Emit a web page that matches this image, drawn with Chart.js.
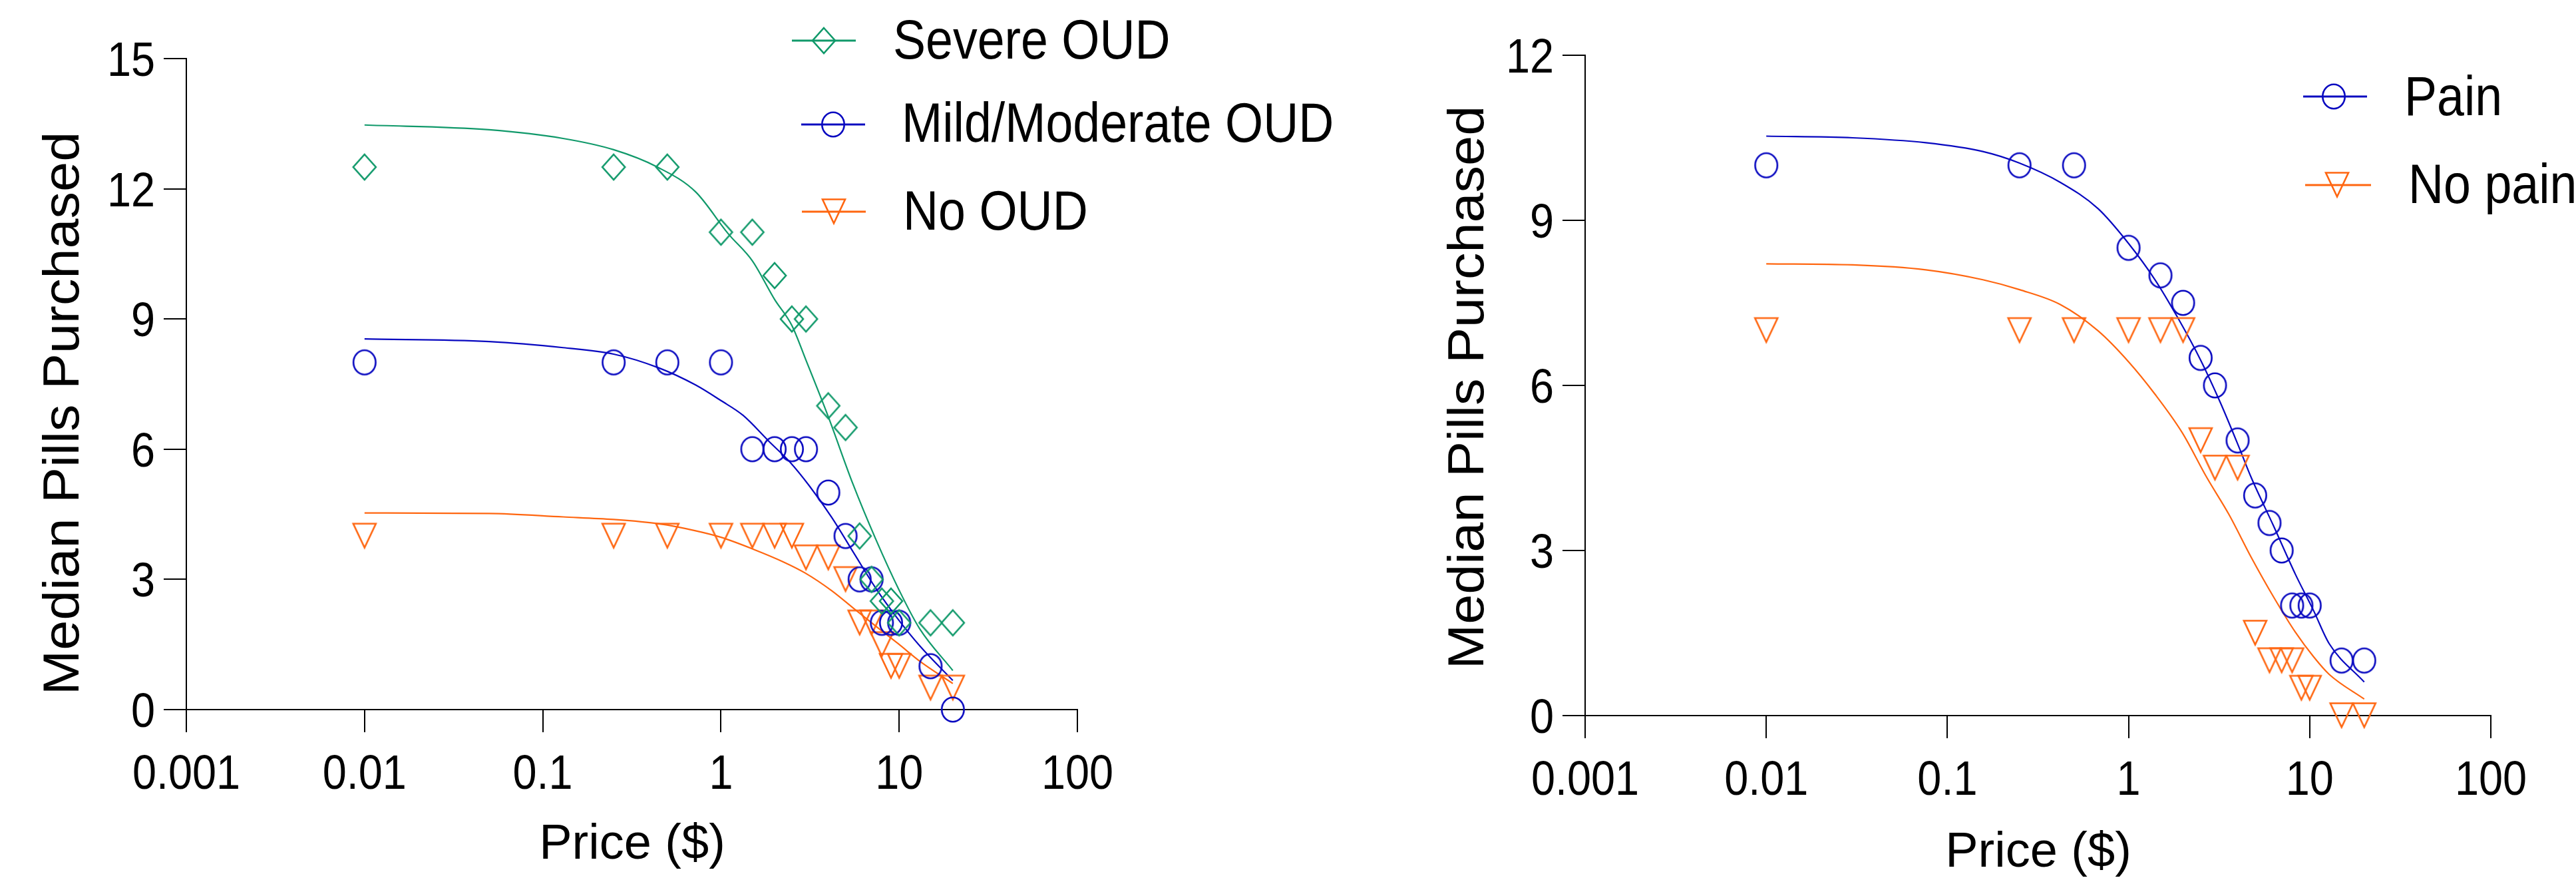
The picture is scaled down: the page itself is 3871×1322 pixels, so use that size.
<!DOCTYPE html>
<html>
<head>
<meta charset="utf-8">
<script src="https://cdn.jsdelivr.net/npm/chart.js@4.4.1/dist/chart.umd.min.js"></script>
<style>
  html, body { margin: 0; padding: 0; background: #fff; }
  #wrap { position: relative; width: 3871px; height: 1322px; overflow: hidden; }
  canvas { position: absolute; left: 0; top: 0; }
</style>
</head>
<body>
<div id="wrap">
  <canvas id="oudChart" width="3871" height="1322"></canvas>
  <canvas id="painChart" width="3871" height="1322"></canvas>
</div>
<script>
// prices of the purchase task ($)
const prices = [0.01, 0.25, 0.5, 1, 1.5, 2, 2.5, 3, 4, 5, 6, 7, 8, 9, 10, 15, 20];
const priceTicks = [0.001, 0.01, 0.1, 1, 10, 100];

// median pills purchased, left panel
const severeOud = [12.5, 12.5, 12.5, 11, 11, 10, 9, 9, 7, 6.5, 4, 3, 2.5, 2.5, 2, 2, 2];
const mildOud = [8, 8, 8, 8, 6, 6, 6, 6, 5, 4, 3, 3, 2, 2, 2, 1, 0];
const noOud = [4, 4, 4, 4, 4, 4, 4, 3.5, 3.5, 3, 2, 2, 1.5, 1, 1, 0.5, 0.5];

// median pills purchased, right panel
const pain = [10, 10, 10, 8.5, 8, 7.5, 6.5, 6, 5, 4, 3.5, 3, 2, 2, 2, 1, 1];
const noPain = [7, 7, 7, 7, 7, 7, 5, 4.5, 4.5, 1.5, 1, 1, 1, 0.5, 0.5, 0, 0];

// fitted demand curves
const severeFitX = [0.01, 0.05, 0.13, 0.25, 0.44, 0.72, 1.1, 1.5, 2, 2.5, 3, 4, 5.5, 7.4, 10, 13, 20];
const severeFitY = [13.47, 13.36, 13.16, 12.9, 12.5, 11.93, 10.96, 10.34, 9.45, 8.85, 8.05, 6.75, 5.2, 3.92, 2.75, 1.87, 0.9];
const mildFitX = [0.01, 0.05, 0.13, 0.25, 0.45, 0.72, 1, 1.33, 1.87, 2.43, 3.14, 4.18, 5.56, 7.41, 9.87, 13.1, 20];
const mildFitY = [8.54, 8.48, 8.34, 8.19, 7.87, 7.48, 7.12, 6.78, 6.17, 5.71, 5.15, 4.43, 3.61, 2.79, 2.08, 1.46, 0.67];
const noOudFitX = [0.01, 0.05, 0.13, 0.25, 0.45, 0.72, 1, 1.53, 2.22, 2.96, 4.18, 5.56, 7.41, 9.87, 13.1, 20];
const noOudFitY = [4.53, 4.52, 4.44, 4.38, 4.28, 4.12, 3.97, 3.69, 3.41, 3.15, 2.74, 2.33, 1.92, 1.52, 1.11, 0.6];
const painFitX = [0.01, 0.03, 0.076, 0.157, 0.25, 0.42, 0.68, 1, 1.4, 1.87, 2.5, 3.2, 4.08, 4.75, 6.31, 8.36, 10.5, 12.8, 20];
const painFitY = [10.53, 10.5, 10.41, 10.25, 10.04, 9.69, 9.21, 8.58, 7.92, 7.23, 6.46, 5.7, 4.87, 4.33, 3.45, 2.56, 1.91, 1.31, 0.61];
const noPainFitX = [0.01, 0.03, 0.076, 0.157, 0.25, 0.42, 0.68, 1, 1.4, 1.98, 2.7, 3.59, 4.75, 6.31, 8.36, 10.5, 12.8, 20];
const noPainFitY = [8.21, 8.19, 8.1, 7.92, 7.74, 7.47, 6.99, 6.43, 5.84, 5.14, 4.33, 3.65, 2.88, 2.16, 1.51, 1.07, 0.75, 0.3];

const GREEN = '#10996a';
const BLUE = '#0808c0';
const ORANGE = '#ff6610';
const SANS = '"Liberation Sans", Arial, sans-serif';

// open markers, a bit taller than wide like in the figure
function marker(shape, color) {
    const c = document.createElement('canvas');
    c.width = 44; c.height = 48;
    const g = c.getContext('2d');
    const cx = 22, cy = 24;
    g.strokeStyle = color;
    g.lineWidth = 2.6;
    g.beginPath();
    if (shape === 'diamond') {
        g.moveTo(cx, cy - 19); g.lineTo(cx + 17, cy); g.lineTo(cx, cy + 19); g.lineTo(cx - 17, cy);
        g.closePath();
    } else if (shape === 'circle') {
        g.ellipse(cx, cy, 16.7, 18.2, 0, 0, Math.PI * 2);
    } else {
        g.moveTo(cx - 17, cy - 18.5); g.lineTo(cx + 17, cy - 18.5); g.lineTo(cx, cy + 17.5);
        g.closePath();
    }
    g.stroke();
    return c;
}

function points(xs, ys) {
    return xs.map(function(x, i) { return { x: x, y: ys[i] }; });
}

function scatterSet(label, ys, color, shape) {
    return {
        label: label,
        data: points(prices, ys),
        showLine: false,
        borderColor: color,
        backgroundColor: color,
        pointStyle: marker(shape, color),
        pointRadius: 18,
        clip: false
    };
}

function fitSet(label, xs, ys, color) {
    return {
        label: label,
        data: points(xs, ys),
        borderColor: color,
        borderWidth: 2.2,
        pointRadius: 0,
        cubicInterpolationMode: 'monotone',
        clip: false
    };
}

// text squeezed sideways, the figure's lettering is condensed
function squeezed(ctx, text, x, y, size, sx, align) {
    ctx.save();
    ctx.translate(x, y);
    ctx.scale(sx, 1);
    ctx.font = size + 'px ' + SANS;
    ctx.textAlign = align;
    ctx.textBaseline = 'alphabetic';
    ctx.fillText(text, 0, 0);
    ctx.restore();
}

// tick labels placed from the chart's own scales
const tickText = {
    id: 'tickText',
    afterDraw(chart) {
        const ctx = chart.ctx;
        const xs = chart.scales.x, ys = chart.scales.y;
        ctx.save();
        ctx.fillStyle = '#000';
        xs.ticks.forEach(function(t) {
            squeezed(ctx, String(t.value), xs.getPixelForValue(t.value), xs.top + 119, 72, 0.9, 'center');
        });
        ys.ticks.forEach(function(t) {
            squeezed(ctx, String(t.value), ys.right - 47, ys.getPixelForValue(t.value) + 26, 72, 0.9, 'right');
        });
        ctx.restore();
    }
};

// legend: short line with the marker on it, then the label
const lineLegend = {
    id: 'lineLegend',
    afterDraw(chart, args, opts) {
        const ctx = chart.ctx;
        ctx.save();
        opts.items.forEach(function(it) {
            const ds = chart.data.datasets[it.dataset];
            ctx.strokeStyle = ds.borderColor;
            ctx.lineWidth = 3;
            ctx.beginPath();
            ctx.moveTo(it.x1, it.y);
            ctx.lineTo(it.x2, it.y);
            ctx.stroke();
            Chart.helpers.drawPoint(ctx, { pointStyle: ds.pointStyle, radius: 18, rotation: 0, borderWidth: 0 }, it.mx, it.y);
            ctx.fillStyle = '#000';
            squeezed(ctx, ds.label, it.tx, it.ty, 84, 0.875, 'left');
        });
        ctx.restore();
    }
};

const axisTitles = {
    id: 'axisTitles',
    afterDraw(chart, args, opts) {
        const ctx = chart.ctx;
        ctx.save();
        ctx.fillStyle = '#000';
        ctx.textAlign = 'center';
        ctx.textBaseline = 'alphabetic';
        ctx.font = '74px ' + SANS;
        ctx.fillText(opts.xText, opts.xCenter, opts.xBase);
        ctx.translate(opts.yBase, opts.yCenter);
        ctx.rotate(-Math.PI / 2);
        ctx.scale(1, 0.94);
        ctx.font = '81px ' + SANS;
        ctx.fillText(opts.yText, 0, 0);
        ctx.restore();
    }
};

function axes(yMax, yWidth, xHeight) {
    return {
        x: {
            type: 'logarithmic',
            min: 0.001,
            max: 100,
            afterBuildTicks: function(scale) {
                scale.ticks = priceTicks.map(function(v) { return { value: v }; });
            },
            afterFit: function(scale) { scale.height = xHeight; },
            ticks: { display: false, autoSkip: false },
            grid: { drawOnChartArea: false, drawTicks: true, tickLength: 34, color: '#000', lineWidth: 2 },
            border: { display: true, color: '#000', width: 2 }
        },
        y: {
            min: 0,
            max: yMax,
            afterFit: function(scale) { scale.width = yWidth; },
            ticks: { display: false, stepSize: 3 },
            grid: { drawOnChartArea: false, drawTicks: true, tickLength: 34, color: '#000', lineWidth: 2 },
            border: { display: true, color: '#000', width: 2 }
        }
    };
}

document.addEventListener('DOMContentLoaded', function() {

    // left panel: OUD severity
    new Chart(document.getElementById('oudChart').getContext('2d'), {
        type: 'line',
        data: {
            datasets: [
                scatterSet('Severe OUD', severeOud, GREEN, 'diamond'),
                scatterSet('Mild/Moderate OUD', mildOud, BLUE, 'circle'),
                scatterSet('No OUD', noOud, ORANGE, 'triangle'),
                fitSet('Severe OUD fit', severeFitX, severeFitY, GREEN),
                fitSet('Mild/Moderate OUD fit', mildFitX, mildFitY, BLUE),
                fitSet('No OUD fit', noOudFitX, noOudFitY, ORANGE)
            ]
        },
        options: {
            responsive: false,
            animation: false,
            devicePixelRatio: 1,
            layout: { padding: { left: 0, top: 88, right: 2252, bottom: 0 } },
            scales: axes(15, 280, 256),
            plugins: {
                legend: { display: false },
                tooltip: { enabled: false },
                lineLegend: {
                    items: [
                        { dataset: 0, x1: 1190, x2: 1286, mx: 1238, y: 61, tx: 1342, ty: 88 },
                        { dataset: 1, x1: 1204, x2: 1300, mx: 1252, y: 187, tx: 1355, ty: 213 },
                        { dataset: 2, x1: 1205, x2: 1301, mx: 1253, y: 318, tx: 1357, ty: 345 }
                    ]
                },
                axisTitles: {
                    xText: 'Price ($)', xCenter: 950, xBase: 1290,
                    yText: 'Median Pills Purchased', yBase: 118, yCenter: 621
                }
            }
        },
        plugins: [tickText, lineLegend, axisTitles]
    });

    // right panel: pain status
    new Chart(document.getElementById('painChart').getContext('2d'), {
        type: 'line',
        data: {
            datasets: [
                scatterSet('Pain', pain, BLUE, 'circle'),
                scatterSet('No pain', noPain, ORANGE, 'triangle'),
                fitSet('Pain fit', painFitX, painFitY, BLUE),
                fitSet('No pain fit', noPainFitX, noPainFitY, ORANGE)
            ]
        },
        options: {
            responsive: false,
            animation: false,
            devicePixelRatio: 1,
            layout: { padding: { left: 0, top: 83, right: 128, bottom: 0 } },
            scales: axes(12, 2382, 247),
            plugins: {
                legend: { display: false },
                tooltip: { enabled: false },
                lineLegend: {
                    items: [
                        { dataset: 0, x1: 3461, x2: 3557, mx: 3507, y: 145, tx: 3613, ty: 173 },
                        { dataset: 1, x1: 3464, x2: 3563, mx: 3512, y: 278, tx: 3619, ty: 305 }
                    ]
                },
                axisTitles: {
                    xText: 'Price ($)', xCenter: 3063, xBase: 1302,
                    yText: 'Median Pills Purchased', yBase: 2229, yCenter: 582
                }
            }
        },
        plugins: [tickText, lineLegend, axisTitles]
    });
});
</script>
</body>
</html>
